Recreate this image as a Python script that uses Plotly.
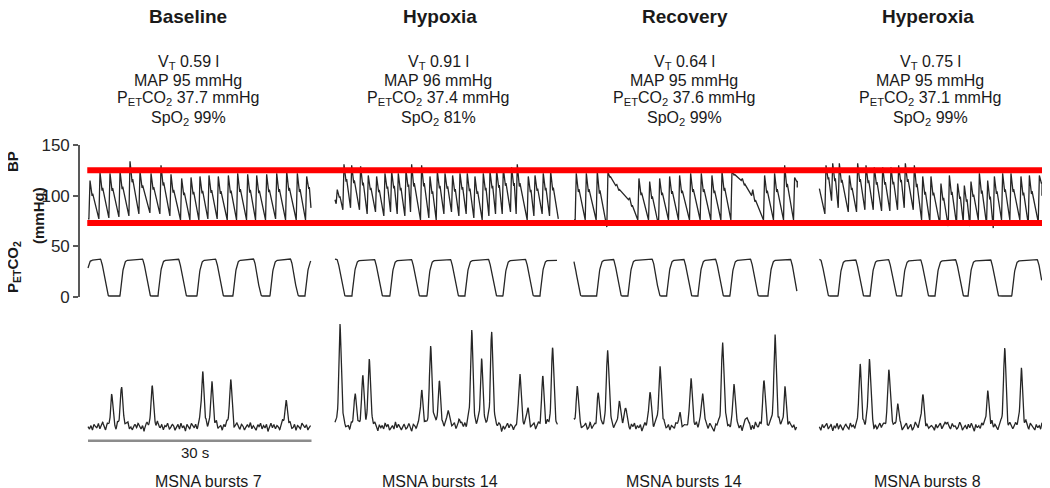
import numpy as np
import plotly.graph_objects as go

# ---------------- data ----------------
panel_names = ["Baseline", "Hypoxia", "Recovery", "Hyperoxia"]
vt_vals = ["0.59", "0.91", "0.64", "0.75"]
map_vals = [95, 96, 95, 95]
petco2_vals = [37.7, 37.4, 37.6, 37.1]
spo2_vals = [99, 81, 99, 99]
msna_burst_counts = [7, 14, 14, 8]
bp_ref_lines = [125, 73]
bp_ticks = [0, 50, 100, 150]

# Blood pressure: beat peak times (s), systolic and preceding diastolic (mmHg)
bp_beat_t = [
    [0.27, 1.61, 2.95, 4.30, 5.64, 6.98, 8.46, 9.80, 11.14, 12.57, 13.83, 15.03, 16.24,
     17.49, 18.84, 20.09, 21.43, 22.64, 23.98, 25.33, 26.67, 28.10, 29.35],
    [0.31, 1.21, 2.24, 3.44, 4.47, 5.59, 6.71, 7.61, 8.50, 9.53, 10.29, 11.63, 12.75, 13.74,
     14.77, 15.79, 16.78, 17.76, 18.79, 19.91, 20.81, 21.70, 22.60, 23.71, 24.47, 25.95,
     26.85, 27.96, 28.95],
    [0.31, 1.66, 3.13, 4.56, 5.75, 7.47, 8.72, 10.16, 11.50, 12.84, 14.18, 15.66, 17.09,
     18.52, 19.87, 21.21, 22.60, 24.00, 25.59, 26.93, 28.28, 29.62],
    [0.89, 1.79, 2.68, 4.03, 5.14, 6.26, 7.38, 8.50, 9.61, 10.64, 11.54, 12.75, 13.87, 14.98,
     16.32, 17.45, 18.56, 19.46, 20.35, 21.48, 22.59, 23.49, 24.60, 25.72, 27.06, 28.19, 29.53],
]
bp_sys = [
    [115, 123, 122, 124, 134, 124, 122, 130, 121, 117, 118, 119, 120, 119, 120, 122, 121, 120,
     121, 122, 124, 122, 119],
    [106, 131, 130, 129, 120, 119, 122, 124, 122, 125, 131, 130, 119, 124, 122, 120, 122, 122,
     119, 122, 124, 125, 127, 128, 131, 119, 120, 122, 124],
    [122, 122, 124, 123, 111, 98, 117, 114, 117, 119, 120, 122, 122, 120, 124, 124, 117, 106,
     120, 122, 130, 118],
    [130, 132, 132, 120, 132, 130, 128, 128, 128, 130, 132, 130, 119, 119, 112, 120, 112, 110,
     114, 122, 115, 119, 122, 122, 119, 120, 120],
]
bp_dia = [
    [77, 77, 78, 79, 80, 82, 83, 82, 80, 76, 76, 76, 77, 77, 76, 76, 76, 76, 76, 77, 76, 76, 76],
    [92, 86, 88, 86, 82, 84, 80, 84, 82, 80, 84, 76, 78, 76, 82, 84, 80, 82, 78, 76, 80, 82, 82,
     84, 82, 76, 80, 82, 80],
    [76, 76, 76, 69, 110, 96, 76, 76, 71, 76, 76, 76, 76, 76, 76, 76, 115, 100, 76, 76, 76, 76],
    [82, 95, 88, 84, 84, 86, 86, 85, 85, 86, 88, 86, 76, 74, 72, 70, 72, 74, 70, 76, 72, 68, 76,
     76, 76, 72, 74],
]
bp_start = [77, 96, 76, 107]
bp_end_t = [29.93, 29.98, 29.97, 29.88]
bp_end_v = [88, 77, 108, 100]

# End-tidal CO2: times where the expiratory plateau ends (fall) and the trough ends (rise)
co2_fall_t = [
    [1.61, 7.25, 12.08, 17.05, 22.15, 27.11],
    [0.20, 5.23, 10.20, 15.44, 20.54, 25.50],
    [-0.20, 5.23, 10.43, 14.67, 18.93, 23.62, 28.99],
    [0.10, 4.79, 9.22, 13.52, 18.21, 22.91, 29.18],
]
co2_rise_t = [
    [-0.46, 4.30, 9.40, 14.63, 19.46, 24.43, 29.13],
    [2.28, 7.38, 12.35, 17.45, 22.55, 27.52],
    [3.05, 7.25, 12.44, 16.64, 20.94, 26.04],
    [2.51, 6.81, 11.06, 15.53, 19.96, 25.83],
]
co2_trough = 1.0
co2_end_t = [29.93, 29.80, 29.93, 29.85]

# MSNA: burst times (s) and amplitudes (arbitrary units)
msna_burst_t = [
    [3.18, 4.52, 8.63, 15.39, 16.64, 19.15, 26.58],
    [0.67, 2.68, 3.72, 4.61, 11.64, 12.85, 14.00, 15.21, 16.80, 18.35, 19.69, 21.03, 24.83,
     25.90, 27.88, 29.22],
    [0.44, 3.26, 4.52, 6.08, 6.94, 10.20, 11.54, 14.20, 15.70, 17.27, 19.95, 21.48, 23.20,
     25.50, 26.98, 28.32],
    [5.46, 6.71, 9.31, 10.52, 13.88, 17.00, 22.59, 24.87, 27.11],
]
msna_burst_a = [
    [29, 41, 42, 55, 42, 47, 28],
    [102, 32, 47, 67, 35, 81, 45, 19, 9, 97, 69, 95, 52, 17, 47, 80],
    [40, 33, 80, 26, 20, 35, 62, 13, 50, 35, 85, 42, 10, 46, 92, 38],
    [60, 69, 59, 20, 32, 6, 37, 77, 58],
]
msna_noise = [0, -2, 1, -3, 2, 0, -1, 3, -2, 1, 4, -1, -3, 2, 0, -2, 3, 1, -1, -4, 2, 0, 3, -2,
              1, -1, 2, 4, -2, 0, -3, 1, 2, -1, 3, 0, -2, 1, -4, 2,
              3, -1, 0, 2, -3, 1, -2, 4, 0, -1, 2, -3, 1, 0, 3, -2, -1, 2, 1, -3,
              0, 2, -2, 3, -1, 1, -4, 2, 0, -2, 3, 1, -1, 2, -3, 0, 4, -2, 1, -1,
              2, -3, 0, 1, 3, -2, -1, 4, -2, 0, 1, -3, 2, -1, 3, 0, -2, 1, 2, -4,
              0, 3, -1, -2, 2, 1, -3, 0, 2, -1, 4, -2, 1, -1, -3, 2, 0, 3, -2, 1,
              -1, 2, -4, 0, 3, -1, 2, -2, 1, 0, -3, 2, 4, -1, -2, 1, 0, 3, -2, -1,
              2, -3, 1, 0, -2, 3, 1, -1, 2, -3, 0, 1]
scale_bar_s = 30

# ---------------- layout constants ----------------
# The page places the figure 8 px from the window's top-left corner; all
# reference pixel positions below are window pixels.
OFF = 8
W, H = 1050 - OFF, 488 - OFF
ML, MR = 72, 4
plot_w = W - ML - MR
PX_PER_S = 7.45
panel_t0 = [0.0, 33.15, 65.23, 98.17]
x_min = -8 / PX_PER_S
x_max = x_min + plot_w / PX_PER_S
TRACE = "#262626"
FONT = "Liberation Sans, Arial, sans-serif"


def py2paper(p):
    return 1 - (p - OFF) / H


def px2paper(p):
    return (p - OFF - ML) / plot_w


def px2t(p):
    return (p - 88) / PX_PER_S


def bp_wave(bt, sy, di, v0, t_end, v_end):
    xs, ys = [0.0], [v0]
    n = len(bt)
    for i in range(n):
        tp, s, d = bt[i], sy[i], di[i]
        xs += [max(tp - 0.15, 0.01), tp]
        ys += [d, s]
        dn = di[i + 1] if i + 1 < n else v_end
        amp = s - dn
        xs += [tp + 0.28, tp + 0.36]
        ys += [s - 0.40 * amp, s - 0.34 * amp]
    xs.append(t_end)
    ys.append(v_end)
    return np.array(xs), np.array(ys)


def co2_wave(falls, rises, P, T, t_end):
    ev = sorted([(t, "f") for t in falls] + [(t, "r") for t in rises])
    t = np.arange(0, t_end + 1e-9, 0.04)
    y = np.full_like(t, P)
    if ev and ev[0][1] == "r" and ev[0][0] > 0:
        y[:] = T
    for k, (te, kind) in enumerate(ev):
        nxt = ev[k + 1][0] if k + 1 < len(ev) else t_end + 10
        m = (t >= te) & (t < nxt)
        tt = t[m]
        if kind == "f":
            u = np.clip((tt - te) / 1.2, 0, 1)
            y[m] = P + (T - P) * (3 * u ** 2 - 2 * u ** 3)
        else:
            u = np.clip((tt - te) / 1.0, 0, 1)
            rise = T + (P - 1.5 - T) * (1 - (1 - u) ** 2.5)
            plat = (P - 1.5) + 1.5 * np.clip((tt - te - 1.0) / max(nxt - te - 1.0, 0.1), 0, 1)
            y[m] = np.where(u < 1, rise, plat)
    return t, y


def msna_wave(bt, ba, noise):
    t = np.arange(0, 29.9, 0.04)
    y = np.interp(t, np.linspace(0, 29.9, len(noise)), noise) * 1.2
    for tb, a in zip(bt, ba):
        y += 0.8 * a * np.exp(-0.5 * ((t - tb) / 0.14) ** 2)
        y += 0.2 * a * np.exp(-0.5 * ((t - tb) / 0.35) ** 2)
    return t, y


fig = go.Figure()
half = len(msna_noise) // 2
noise_sets = [msna_noise, msna_noise[::-1], msna_noise[half:] + msna_noise[:half],
              (msna_noise[half:] + msna_noise[:half])[::-1]]

for i in range(4):
    t0 = panel_t0[i]
    bx, by = bp_wave(bp_beat_t[i], bp_sys[i], bp_dia[i], bp_start[i], bp_end_t[i], bp_end_v[i])
    fig.add_trace(go.Scatter(x=bx + t0, y=by, mode="lines", line=dict(color=TRACE, width=1.3),
                             hoverinfo="skip", showlegend=False))
    cx, cy = co2_wave(co2_fall_t[i], co2_rise_t[i], petco2_vals[i], co2_trough, co2_end_t[i])
    fig.add_trace(go.Scatter(x=cx + t0, y=cy, mode="lines", line=dict(color=TRACE, width=1.3),
                             hoverinfo="skip", showlegend=False))
    mx, my = msna_wave(msna_burst_t[i], msna_burst_a[i], noise_sets[i])
    fig.add_trace(go.Scatter(x=mx + t0, y=my, mode="lines", line=dict(color=TRACE, width=1.3),
                             yaxis="y2", hoverinfo="skip", showlegend=False))

# red reference lines (on top of the BP traces)
for v in bp_ref_lines:
    fig.add_trace(go.Scatter(x=[-0.1, x_max], y=[v, v], mode="lines",
                             line=dict(color="#ff0000", width=6), hoverinfo="skip",
                             showlegend=False))

# 30 s scale bar
fig.add_trace(go.Scatter(x=[0, scale_bar_s], y=[-14, -14], yaxis="y2", mode="lines",
                         line=dict(color="#8c8c8c", width=2.5), hoverinfo="skip",
                         showlegend=False))

ann = []
title_x = [188, 440, 685, 928]
info_x = [188, 438, 684, 930]
msna_x = [208, 440, 684, 927]

for i in range(4):
    ann.append(dict(x=px2t(title_x[i]), y=py2paper(16), text=f"<b>{panel_names[i]}</b>",
                    font=dict(size=19)))
    lines = [
        (62, f"V<sub>T</sub> {vt_vals[i]} l"),
        (80, f"MAP {map_vals[i]} mmHg"),
        (98, f"P<sub>ET</sub>CO<sub>2</sub> {petco2_vals[i]} mmHg"),
        (119, f"SpO<sub>2</sub> {spo2_vals[i]}%"),
    ]
    for py, txt in lines:
        ann.append(dict(x=px2t(info_x[i]), y=py2paper(py), text=txt, font=dict(size=16)))
    ann.append(dict(x=px2t(msna_x[i]), y=py2paper(481), text=f"MSNA bursts {msna_burst_counts[i]}",
                    font=dict(size=16)))

ann.append(dict(x=px2t(195), y=py2paper(452), text=f"{scale_bar_s} s", font=dict(size=15)))

for a in ann:
    a.update(xref="x", yref="paper", showarrow=False, xanchor="center", yanchor="middle")
    a["font"].update(family=FONT, color="#1a1a1a")

# rotated axis labels
for txt, px, py in [("<b>BP</b>", 12, 162), ("<b>(mmHg)</b>", 38, 216),
                    ("<b>P<sub>ET</sub>CO<sub>2</sub></b>", 13, 267)]:
    ann.append(dict(x=px2paper(px), y=py2paper(py), xref="paper", yref="paper",
                    text=txt, textangle=-90, showarrow=False, xanchor="center",
                    yanchor="middle", font=dict(family=FONT, size=15, color="#1a1a1a")))

fig.update_layout(
    width=W, height=H,
    margin=dict(l=ML, r=MR, t=0, b=0, autoexpand=False),
    paper_bgcolor="white", plot_bgcolor="white",
    showlegend=False,
    xaxis=dict(range=[x_min, x_max], visible=False, fixedrange=True, automargin=False),
    yaxis=dict(domain=[py2paper(297), py2paper(145)], range=[0, 150], tickvals=bp_ticks,
               showline=True, linecolor="#595959", linewidth=1.6, ticks="outside", ticklen=5,
               tickwidth=1.6, tickcolor="#595959", showgrid=False, zeroline=False,
               automargin=False,
               tickfont=dict(family=FONT, size=17, color="#262626")),
    yaxis2=dict(domain=[py2paper(446.7), py2paper(316.7)], range=[-20, 110], visible=False,
                anchor="x", showgrid=False, zeroline=False, automargin=False),
    annotations=ann,
)

fig.write_html("out.html")
